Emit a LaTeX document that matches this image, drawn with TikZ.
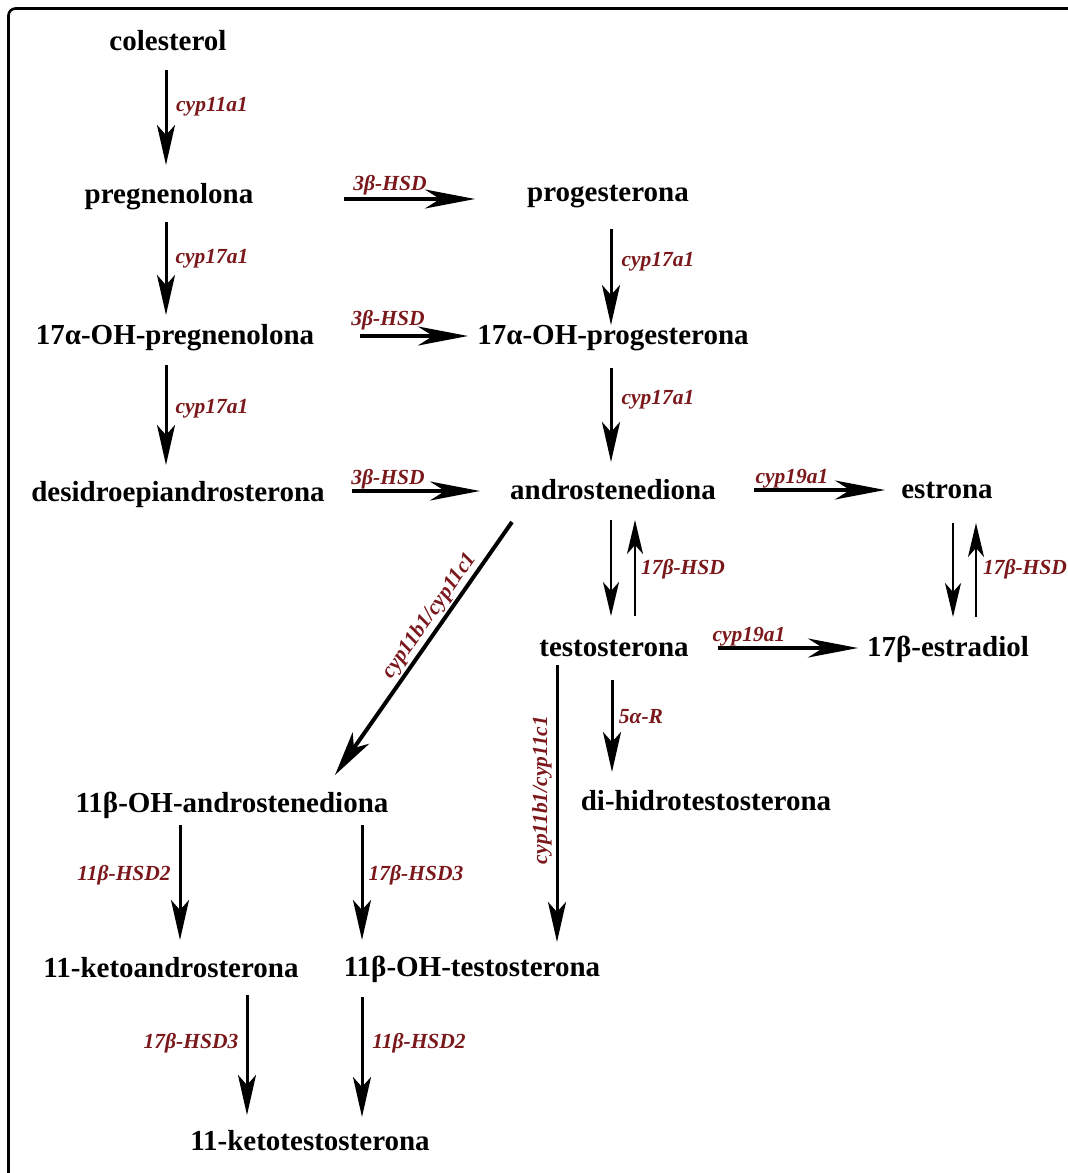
\documentclass[tikz,border=0pt]{standalone}
\usepackage{fontspec}
\setmainfont{Liberation Serif}
\usetikzlibrary{arrows.meta}
\definecolor{enz}{RGB}{122,24,28}
\tikzset{
  cmp/.style={font=\bfseries\fontsize{29}{31}\selectfont, inner sep=0pt, anchor=center},
  enzlab/.style={font=\bfseries\itshape\fontsize{21.5}{23}\selectfont, text=enz, inner sep=0pt, anchor=center},
  varr/.style={line width=3pt, -{Stealth[length=40pt,width=18pt,inset=10pt]}},
  harr/.style={line width=3.8pt, -{Stealth[length=50pt,width=19pt,inset=15pt]}},
  thinarr/.style={line width=2.4pt, -{Stealth[length=34pt,width=16pt,inset=9pt]}},
  diagarr/.style={line width=4pt, -{Stealth[length=45pt,width=20pt,inset=12pt]}},
  frame/.style={line width=2.6pt, rounded corners=7pt},
}
\begin{document}
\begin{tikzpicture}[x=1pt,y=-1pt]
\useasboundingbox (0,0) rectangle (1068,1173);
\begin{scope}
\clip (0,0) rectangle (1068,1173);
\draw[frame] (8.5,1190) -- (8.5,8.5) -- (1090,8.5);
\end{scope}

% compounds
\node[cmp] (C) at (168,41) {colesterol};
\node[cmp] (P) at (169,197) {pregnenolona};
\node[cmp] (Q) at (175,338) {17α-OH-pregnenolona};
\node[cmp] (D) at (178,495) {desidroepiandrosterona};
\node[cmp] (G) at (608,197) {progesterona};
\node[cmp] (H) at (613,338) {17α-OH-progesterona};
\node[cmp] (A) at (613,490) {androstenediona};
\node[cmp] (T) at (614,648) {testosterona};
\node[cmp] (DHT) at (706,801) {di-hidrotestosterona};
\node[cmp] (E) at (947,490) {estrona};
\node[cmp] (R) at (948,649) {17β-estradiol};
\node[cmp] (B) at (232,805) {11β-OH-androstenediona};
\node[cmp] (K) at (171,968) {11-ketoandrosterona};
\node[cmp] (O) at (472,969) {11β-OH-testosterona};
\node[cmp] (Z) at (310,1141) {11-ketotestosterona};

% arrows
\draw[varr] ([shift={(-2,29)}]C.center) -- ([shift={(-3,-32)}]P.center);
\draw[varr] ([shift={(-3,25)}]P.center) -- ([shift={(-9,-23)}]Q.center);
\draw[varr] ([shift={(-9,27)}]Q.center) -- ([shift={(-12,-30)}]D.center);
\draw[harr] ([shift={(175,2)}]P.center) -- ([shift={(-133,2)}]G.center);
\draw[harr] ([shift={(185,-2)}]Q.center) -- ([shift={(-145,-2)}]H.center);
\draw[harr] ([shift={(174,-4)}]D.center) -- ([shift={(-133,1)}]A.center);
\draw[varr] ([shift={(3,32)}]G.center) -- ([shift={(-2,-13)}]H.center);
\draw[varr] ([shift={(-2,30)}]H.center) -- ([shift={(-2,-28)}]A.center);
\draw[harr] ([shift={(141,0)}]A.center) -- ([shift={(-62,0)}]E.center);
\draw[thinarr] ([shift={(-2,30)}]A.center) -- ([shift={(-3,-32)}]T.center);
\draw[thinarr] ([shift={(21,-32)}]T.center) -- ([shift={(22,30)}]A.center);
\draw[thinarr] ([shift={(6,33)}]E.center) -- ([shift={(5,-32)}]R.center);
\draw[thinarr] ([shift={(28,-32)}]R.center) -- ([shift={(29,33)}]E.center);
\draw[harr] ([shift={(104,0)}]T.center) -- ([shift={(-90,-1)}]R.center);
\draw[varr] ([shift={(-2,32)}]T.center) -- ([shift={(-94,-29)}]DHT.center);
\draw[varr] ([shift={(-57,17)}]T.center) -- ([shift={(85,-27)}]O.center);
\draw[diagarr] ([shift={(-101,32)}]A.center) -- ([shift={(103,-30)}]B.center);
\draw[varr] ([shift={(-52,20)}]B.center) -- ([shift={(9,-28)}]K.center);
\draw[varr] ([shift={(130,20)}]B.center) -- ([shift={(-110,-29)}]O.center);
\draw[varr] ([shift={(76,27)}]K.center) -- ([shift={(-63,-26)}]Z.center);
\draw[varr] ([shift={(-110,28)}]O.center) -- ([shift={(52,-24)}]Z.center);

% enzyme labels
\node[enzlab] (e1) at (212,107) {cyp11a1};
\node[enzlab] (e2) at (212,259) {cyp17a1};
\node[enzlab] (e3) at (212,409) {cyp17a1};
\node[enzlab] (e4) at (390,185) {3β-HSD};
\node[enzlab] (e5) at (388,320) {3β-HSD};
\node[enzlab] (e6) at (388,479) {3β-HSD};
\node[enzlab] (e7) at (658,262) {cyp17a1};
\node[enzlab] (e8) at (658,400) {cyp17a1};
\node[enzlab] (e9) at (792,479) {cyp19a1};
\node[enzlab] (e10) at (683,569) {17β-HSD};
\node[enzlab] (e11) at (1025,569) {17β-HSD};
\node[enzlab] (e12) at (749,637) {cyp19a1};
\node[enzlab] (e13) at (641,717) {5α-R};
\node[enzlab, rotate=90] (e14) at (542,790) {cyp11b1/cyp11c1};
\node[enzlab, rotate=55] (e15) at (430,616) {cyp11b1/cyp11c1};
\node[enzlab] (e16) at (124,875) {11β-HSD2};
\node[enzlab] (e17) at (416,875) {17β-HSD3};
\node[enzlab] (e18) at (191,1043) {17β-HSD3};
\node[enzlab] (e19) at (419,1043) {11β-HSD2};
\end{tikzpicture}
\end{document}
